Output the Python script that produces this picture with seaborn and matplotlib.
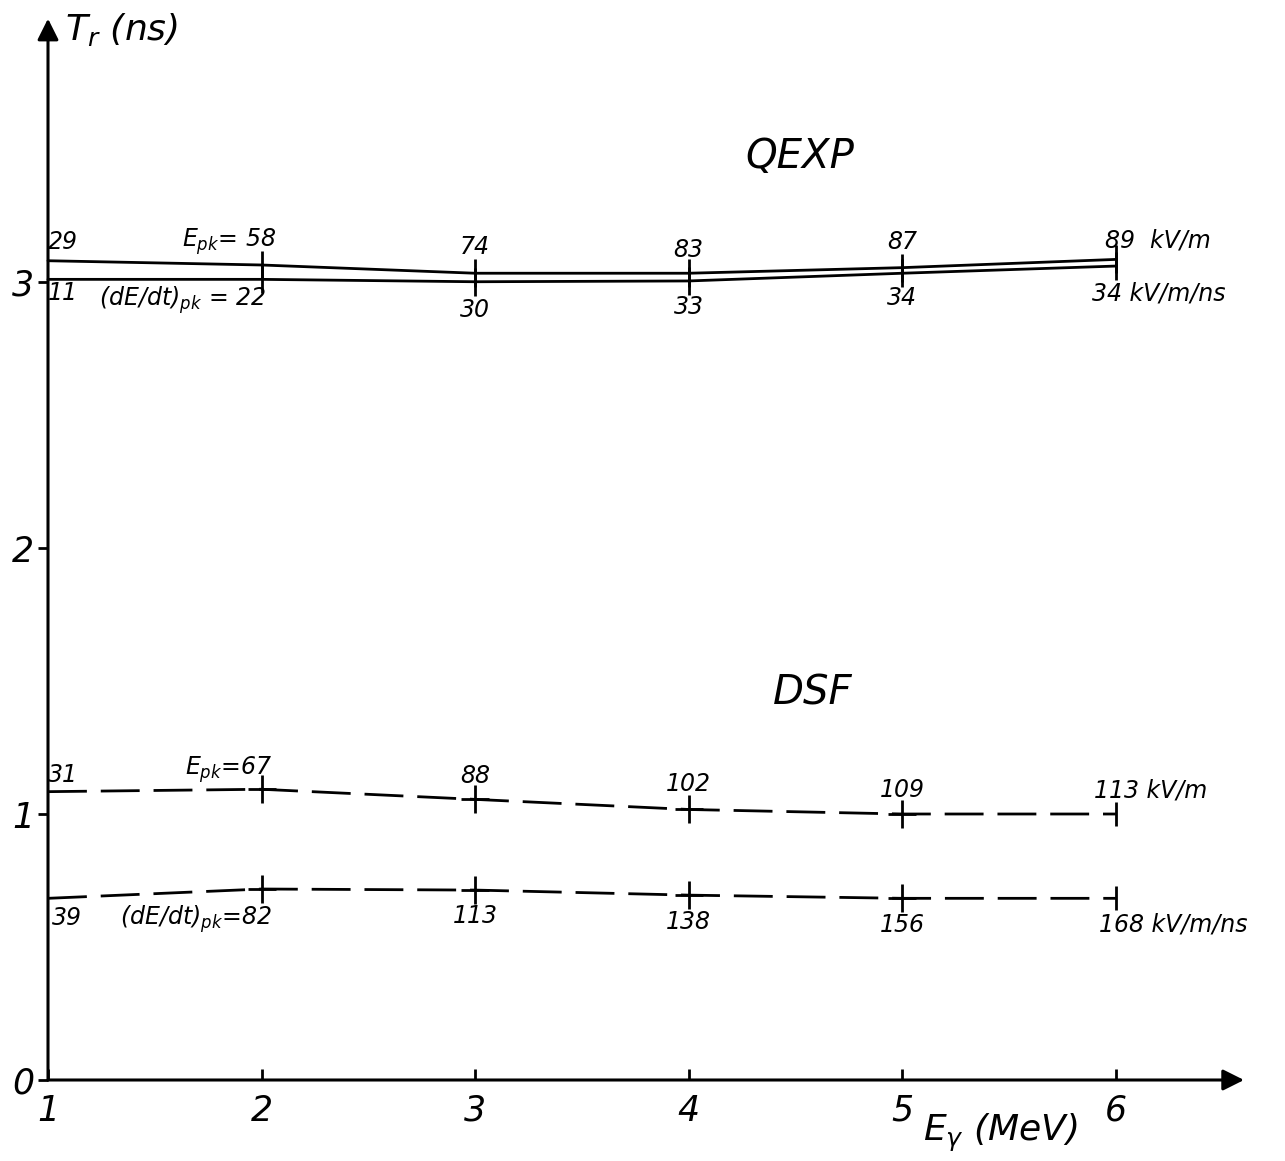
import matplotlib
matplotlib.use("Agg")
import matplotlib.pyplot as plt
import seaborn as sns
import pandas as pd

# ---- data ----
energy = [1, 2, 3, 4, 5, 6]                       # E_gamma (MeV)
qexp_epk_tr = [3.08, 3.064, 3.033, 3.033, 3.054, 3.085]   # rise time, E_pk curve (ns)
qexp_dedt_tr = [3.01, 3.01, 3.001, 3.004, 3.033, 3.06]    # rise time, dE/dt curve (ns)
dsf_epk_tr = [1.084, 1.093, 1.055, 1.017, 1.0, 1.0]
dsf_dedt_tr = [0.683, 0.718, 0.714, 0.695, 0.683, 0.683]

qexp_epk_lbl = ["29", "58", "74", "83", "87", "89"]       # kV/m
qexp_dedt_lbl = ["11", "22", "30", "33", "34", "34"]      # kV/m/ns
dsf_epk_lbl = ["31", "67", "88", "102", "109", "113"]     # kV/m
dsf_dedt_lbl = ["39", "82", "113", "138", "156", "168"]   # kV/m/ns

x_ticks = [1, 2, 3, 4, 5, 6]
y_ticks = [0, 1, 2, 3]

sns.set_theme(style="white")
plt.rcParams["font.family"] = ["DejaVu Sans"]
plt.rcParams["font.style"] = "italic"
plt.rcParams["text.color"] = "black"
plt.rcParams["xtick.color"] = "black"
plt.rcParams["ytick.color"] = "black"
plt.rcParams["mathtext.fontset"] = "custom"
plt.rcParams["mathtext.it"] = "DejaVu Sans:italic"
plt.rcParams["mathtext.rm"] = "DejaVu Sans:italic"
plt.rcParams["mathtext.default"] = "it"

fig = plt.figure(figsize=(12.85, 11.61), dpi=100)
ax = fig.add_axes([48 / 1285, 81 / 1161, 1196 / 1285, 1056 / 1161])
ax.set_xlim(1, 6.6)
ax.set_ylim(0, 3.97)

df = pd.DataFrame({
    "E": energy * 4,
    "Tr": qexp_epk_tr + qexp_dedt_tr + dsf_epk_tr + dsf_dedt_tr,
    "curve": ["qe"] * 6 + ["qd"] * 6 + ["de"] * 6 + ["dd"] * 6,
})

lw = 2.0
for key in ["qe", "qd"]:
    sub = df[df.curve == key]
    sns.lineplot(data=sub, x="E", y="Tr", ax=ax, color="black", lw=lw,
                 clip_on=False, legend=False)
    sns.scatterplot(data=sub[(sub.E > 1)], x="E", y="Tr", ax=ax, marker="|",
                    s=400, color="black", linewidth=2, clip_on=False, legend=False)
for key in ["de", "dd"]:
    sub = df[df.curve == key]
    sns.lineplot(data=sub, x="E", y="Tr", ax=ax, color="black", lw=lw,
                 linestyle=(0, (14, 5)), clip_on=False, legend=False)
    sns.scatterplot(data=sub[(sub.E > 1) & (sub.E < 6)], x="E", y="Tr", ax=ax,
                    marker="+", s=380, color="black", linewidth=2, clip_on=False,
                    legend=False)
    sns.scatterplot(data=sub[sub.E == 6], x="E", y="Tr", ax=ax, marker="|",
                    s=300, color="black", linewidth=2, clip_on=False, legend=False)

# axes with arrows
for s in ax.spines.values():
    s.set_visible(False)
ax.annotate("", xy=(1, 3.99), xytext=(1, 0), xycoords="data",
            arrowprops=dict(arrowstyle="-|>", lw=2.2, color="black",
                            mutation_scale=32, shrinkA=0, shrinkB=0),
            annotation_clip=False)
ax.annotate("", xy=(6.6, 0), xytext=(1, 0), xycoords="data",
            arrowprops=dict(arrowstyle="-|>", lw=2.2, color="black",
                            mutation_scale=32, shrinkA=0, shrinkB=0),
            annotation_clip=False)

ax.set_xticks(x_ticks)
ax.set_yticks(y_ticks)
ax.set_xticklabels([str(v) for v in x_ticks], fontsize=25, style="italic")
ax.set_yticklabels([str(v) for v in y_ticks], fontsize=25, style="italic")
ax.tick_params(axis="x", direction="in", length=8, width=2, pad=10, bottom=True,
               colors="black")
ax.tick_params(axis="y", direction="out", length=7, width=2, pad=3, left=True,
               colors="black")
ax.set_xlabel("")
ax.set_ylabel("")

fs = 17
# QEXP labels
ax.text(4.52, 3.47, "QEXP", fontsize=29, ha="center", va="center")
ax.text(1.0, 3.15, qexp_epk_lbl[0], fontsize=fs, ha="left", va="center")
ax.text(2.07, 3.15, r"$E_{pk}$= " + qexp_epk_lbl[1], fontsize=fs, ha="right", va="center")
for xv, lbl, yv in zip(energy[2:5], qexp_epk_lbl[2:5], [3.13, 3.12, 3.15]):
    ax.text(xv, yv, lbl, fontsize=fs, ha="center", va="center")
ax.text(5.95, 3.155, qexp_epk_lbl[5] + "  kV/m", fontsize=fs, ha="left", va="center")

ax.text(1.0, 2.96, qexp_dedt_lbl[0], fontsize=fs, ha="left", va="center")
ax.text(2.02, 2.93, r"$(dE/dt)_{pk}$ = " + qexp_dedt_lbl[1], fontsize=fs, ha="right",
        va="center")
for xv, lbl, yv in zip(energy[2:5], qexp_dedt_lbl[2:5], [2.895, 2.905, 2.94]):
    ax.text(xv, yv, lbl, fontsize=fs, ha="center", va="center")
ax.text(5.89, 2.955, qexp_dedt_lbl[5] + " kV/m/ns", fontsize=fs, ha="left", va="center")

# DSF labels
ax.text(4.58, 1.455, "DSF", fontsize=29, ha="center", va="center")
ax.text(1.0, 1.147, dsf_epk_lbl[0], fontsize=fs, ha="left", va="center")
ax.text(2.05, 1.165, r"$E_{pk}$=" + dsf_epk_lbl[1], fontsize=fs, ha="right", va="center")
for xv, lbl, yv in zip(energy[2:5], dsf_epk_lbl[2:5], [1.143, 1.113, 1.09]):
    ax.text(xv, yv, lbl, fontsize=fs, ha="center", va="center")
ax.text(5.90, 1.09, dsf_epk_lbl[5] + " kV/m", fontsize=fs, ha="left", va="center")

ax.text(1.02, 0.61, dsf_dedt_lbl[0], fontsize=fs, ha="left", va="center")
ax.text(2.05, 0.605, r"$(dE/dt)_{pk}$=" + dsf_dedt_lbl[1], fontsize=fs, ha="right",
        va="center")
for xv, lbl, yv in zip(energy[2:5], dsf_dedt_lbl[2:5], [0.617, 0.594, 0.583]):
    ax.text(xv, yv, lbl, fontsize=fs, ha="center", va="center")
ax.text(5.92, 0.583, dsf_dedt_lbl[5] + " kV/m/ns", fontsize=fs, ha="left", va="center")

# axis titles
ax.text(1.08, 3.95, r"$T_r$ (ns)", fontsize=26, ha="left", va="center", clip_on=False)
ax.text(5.46, -0.2, r"$E_\gamma$ (MeV)", fontsize=26, ha="center", va="center",
        clip_on=False)

fig.savefig("out.png", dpi=100)
